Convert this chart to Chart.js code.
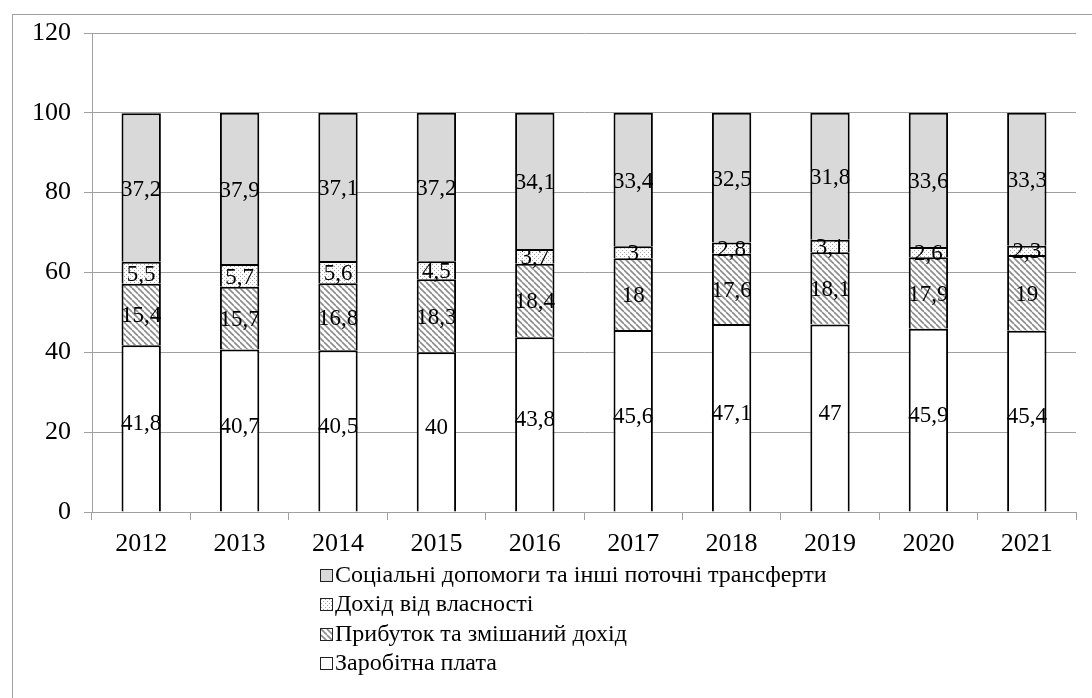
<!DOCTYPE html>
<html>
<head>
<meta charset="utf-8">
<script src="https://cdn.jsdelivr.net/npm/chart.js@4"></script>
<style>
  body { margin: 0; background: #fff; overflow: hidden; }
  #frame { position: absolute; left: 12px; top: 14px; width: 2000px; height: 2000px;
           border-left: 1px solid #a0a0a0; border-top: 1px solid #a0a0a0; }
  #chart { position: absolute; left: 0; top: 0; }
  #legend { position: absolute; left: 320px; top: 560px; font-family: 'Liberation Serif', serif;
            font-size: 24px; color: #000; }
  #legend div { height: 29.3px; line-height: 29.3px; white-space: nowrap; }
  #legend span.box { display: inline-block; width: 11px; height: 11px; border: 1px solid #222;
                     margin-right: 2px; vertical-align: 0px; }
</style>
</head>
<body>
<div id="frame"></div>
<canvas id="chart" width="1092" height="698"></canvas>
<div id="legend"></div>
<script>
const years = ['2012', '2013', '2014', '2015', '2016', '2017', '2018', '2019', '2020', '2021'];
const wages = [41.8, 40.7, 40.5, 40, 43.8, 45.6, 47.1, 47, 45.9, 45.4];
const profit = [15.4, 15.7, 16.8, 18.3, 18.4, 18, 17.6, 18.1, 17.9, 19];
const property = [5.5, 5.7, 5.6, 4.5, 3.7, 3, 2.8, 3.1, 2.6, 2.3];
const social = [37.2, 37.9, 37.1, 37.2, 34.1, 33.4, 32.5, 31.8, 33.6, 33.3];
const seriesNames = ['Заробітна плата', 'Прибуток та змішаний дохід', 'Дохід від власності',
    'Соціальні допомоги та інші поточні трансферти'];

// small pattern tiles for fills
function makeTile(size, draw) {
    const c = document.createElement('canvas');
    c.width = size; c.height = size;
    draw(c.getContext('2d'), size);
    return c;
}
const hatchTile = makeTile(6, (g, s) => {
    g.fillStyle = '#fff';
    g.fillRect(0, 0, s, s);
    g.strokeStyle = '#8c8c8c';
    g.lineWidth = 1.6;
    for (let k = -s; k <= s; k += s) {
        g.beginPath();
        g.moveTo(k, 0);
        g.lineTo(k + s, s);
        g.stroke();
    }
});
const dotTile = makeTile(4, (g, s) => {
    g.fillStyle = '#fff';
    g.fillRect(0, 0, s, s);
    g.fillStyle = '#a8a8a8';
    g.fillRect(0, 0, 1, 1);
    g.fillRect(2, 2, 1, 1);
});

const ctx = document.getElementById('chart').getContext('2d');
const hatch = ctx.createPattern(hatchTile, 'repeat');
const dots = ctx.createPattern(dotTile, 'repeat');

const fills = ['#ffffff', hatch, dots, '#d9d9d9'];
const cssFills = ['#ffffff', `url(${hatchTile.toDataURL()})`, `url(${dotTile.toDataURL()})`, '#d9d9d9'];

const labelPlugin = {
    id: 'segmentLabels',
    afterDatasetsDraw(chart) {
        const c = chart.ctx;
        c.save();
        c.font = '23px "Liberation Serif", serif';
        c.fillStyle = '#000';
        c.textAlign = 'center';
        c.textBaseline = 'middle';
        chart.data.datasets.forEach((ds, i) => {
            const shift = i === 0 ? -4 : 2;
            chart.getDatasetMeta(i).data.forEach((bar, j) => {
                const txt = String(ds.data[j]).replace('.', ',');
                c.fillText(txt, bar.x, (bar.y + bar.base) / 2 + shift);
            });
        });
        c.restore();
    }
};

const datasets = [wages, profit, property, social].map((vals, i) => ({
    label: seriesNames[i],
    data: vals,
    backgroundColor: fills[i],
    borderColor: '#000',
    borderWidth: 2
}));

new Chart(ctx, {
    type: 'bar',
    data: { labels: years, datasets: datasets },
    options: {
        responsive: false,
        animation: false,
        layout: { padding: { left: 12, top: 33, right: 16, bottom: 0 } },
        datasets: { bar: { barPercentage: 0.4, categoryPercentage: 1 } },
        plugins: { legend: { display: false }, tooltip: { enabled: false } },
        scales: {
            x: {
                stacked: true,
                grid: { drawOnChartArea: false, drawTicks: true, offset: true, tickLength: 8, color: '#a0a0a0' },
                border: { color: '#a0a0a0' },
                ticks: { color: '#000', font: { family: 'Liberation Serif', size: 26 }, padding: 9 },
                afterFit: s => { s.height = 186; }
            },
            y: {
                stacked: true,
                min: 0,
                max: 120,
                ticks: { stepSize: 20, color: '#000', font: { family: 'Liberation Serif', size: 26 }, padding: 13 },
                grid: { color: '#a0a0a0', tickLength: 8 },
                border: { color: '#a0a0a0' },
                afterFit: s => { s.width = 80; }
            }
        }
    },
    plugins: [labelPlugin]
});

// legend, listed top series first
const legend = document.getElementById('legend');
for (let i = seriesNames.length - 1; i >= 0; i--) {
    const row = document.createElement('div');
    const box = document.createElement('span');
    box.className = 'box';
    box.style.background = cssFills[i];
    row.appendChild(box);
    row.appendChild(document.createTextNode(seriesNames[i]));
    legend.appendChild(row);
}
</script>
</body>
</html>
